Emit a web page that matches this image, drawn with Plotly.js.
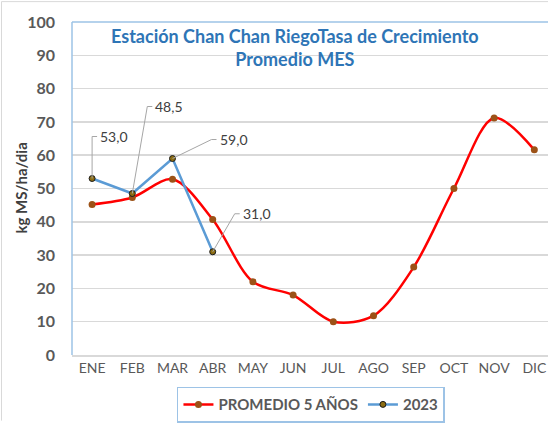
<!DOCTYPE html>
<html><head><meta charset="utf-8">
<script src="https://cdn.plot.ly/plotly-3.0.1.min.js"></script>
<style>html,body{margin:0;padding:0;background:#fff;}#chart{width:548px;height:423px;}</style>
</head><body><div id="chart"></div>
<script>
const months = ['ENE','FEB','MAR','ABR','MAY','JUN','JUL','AGO','SEP','OCT','NOV','DIC'];
const promedio5 = [45.2, 47.3, 52.8, 40.7, 22.0, 18.0, 10.0, 11.8, 26.4, 50.0, 71.2, 61.6];
const months2023 = ['ENE','FEB','MAR','ABR'];
const values2023 = [53.0, 48.5, 59.0, 31.0];
const labels2023 = ['53,0','48,5','59,0','31,0'];
// leader offsets in pixels (dx, dy up)
const leaderDx = [0, 15, 39, 22];
const leaderDy = [42, 87, 19, 38];
const FONT = 'Lato, "Open Sans", sans-serif';

const traces = [
  {x: months, y: promedio5, name: 'PROMEDIO 5 AÑOS', type: 'scatter', mode: 'lines+markers',
   line: {color: '#FF0000', width: 2.5, shape: 'spline', smoothing: 0.9},
   marker: {color: '#9C5217', size: 7}},
  {x: months2023, y: values2023, name: '2023', type: 'scatter', mode: 'lines+markers',
   line: {color: '#5B9BD5', width: 2.5},
   marker: {color: '#8C6D12', size: 6, line: {color: '#1a1a1a', width: 1}}}
];

const shapes = [
  {type: 'line', xref: 'paper', yref: 'paper', x0: 0, x1: 0, y0: 0, y1: 1, line: {color: '#9DC3E6', width: 1.5}},
  {type: 'line', xref: 'paper', yref: 'paper', x0: 0, x1: 1, y0: 1, y1: 1, line: {color: '#9DC3E6', width: 1.5}},
  // outer chart-area border (top and left visible)
  {type: 'line', xref: 'paper', yref: 'paper', x0: (1.5-72)/476, x1: 1, y0: (357-1.5)/335, y1: (357-1.5)/335, line: {color: '#D9D9D9', width: 1}},
  {type: 'line', xref: 'paper', yref: 'paper', x0: (1.5-72)/476, x1: (1.5-72)/476, y0: (357-423)/335, y1: (357-1.5)/335, line: {color: '#D9D9D9', width: 1}}
];
const annotations = [
  {xref: 'paper', yref: 'paper', x: (295-72)/476, y: (357-23)/335, xanchor: 'center', yanchor: 'top', showarrow: false,
   text: '<b>Estación Chan Chan RiegoTasa de Crecimiento<br>Promedio MES</b>',
   font: {family: FONT, size: 18, color: '#2E75B6'}},
  {xref: 'paper', yref: 'paper', x: (20-72)/476, y: 0.5, xanchor: 'center', yanchor: 'middle', showarrow: false,
   textangle: -90, text: '<b>kg MS/ha/dia</b>', font: {family: FONT, size: 15, color: '#404040'}}
];
months2023.forEach((m, i) => {
  const dx = leaderDx[i], dy = leaderDy[i];
  shapes.push({type: 'path', xref: 'x', yref: 'y', xsizemode: 'pixel', ysizemode: 'pixel',
    xanchor: m, yanchor: values2023[i],
    path: `M0,0 L${dx},${dy} L${dx+5},${dy}`, line: {color: '#A6A6A6', width: 1}});
  annotations.push({x: m, y: values2023[i], xref: 'x', yref: 'y', text: labels2023[i], showarrow: false,
    xanchor: 'left', yanchor: 'middle', xshift: dx + 6, yshift: dy,
    font: {family: FONT, size: 14, color: '#404040'}});
});

const layout = {
  width: 548, height: 423,
  margin: {l: 72, r: 0, t: 22, b: 66},
  paper_bgcolor: '#ffffff', plot_bgcolor: '#ffffff',
  xaxis: {type: 'category', range: [-0.5, 11.34], showgrid: false, showline: true, linecolor: '#D9D9D9', linewidth: 1.5,
    ticks: '', tickfont: {family: FONT, size: 14, color: '#595959'}, fixedrange: true},
  yaxis: {range: [0, 100], dtick: 10, showgrid: true, gridcolor: '#D9D9D9', gridwidth: 1.5, zeroline: false,
    showline: false, ticks: '', ticklabelstandoff: 16,
    tickfont: {family: FONT, size: 16, color: '#595959', weight: 'bold'}},
  legend: {orientation: 'h', x: 0.502, xanchor: 'center', y: -0.095, yanchor: 'top', itemwidth: 30,
    bordercolor: '#9DC3E6', borderwidth: 1.5, bgcolor: '#ffffff',
    font: {family: FONT, size: 15, color: '#595959', weight: 'bold'}},
  shapes: shapes,
  annotations: annotations,
  showlegend: true
};
Plotly.newPlot('chart', traces, layout, {displayModeBar: false, staticPlot: true});
</script></body></html>
